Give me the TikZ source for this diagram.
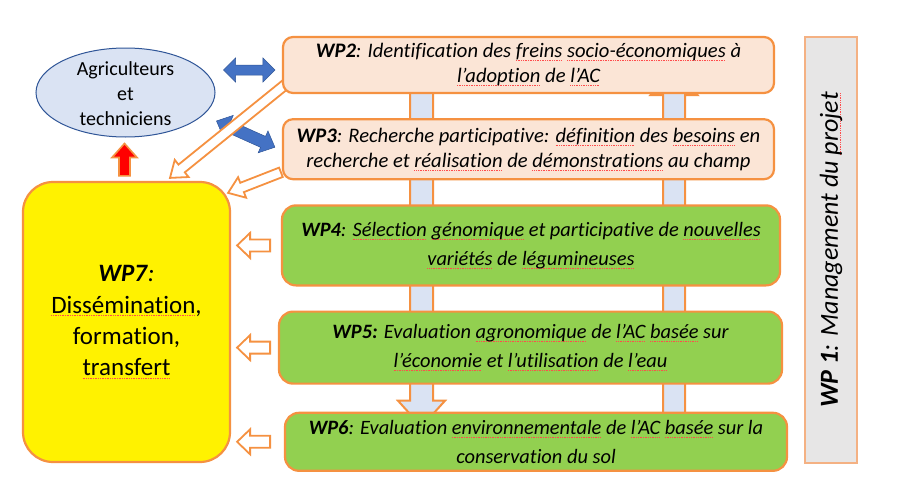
\documentclass[tikz,border=0pt]{standalone}
\usepackage{fontspec}
\setmainfont{Carlito}[Ligatures={TeX,NoCommon}]
\usetikzlibrary{positioning, calc, backgrounds, shapes.geometric}
\definecolor{wporange}{RGB}{245,145,65}
\definecolor{wppeach}{RGB}{251,229,214}
\definecolor{wpgreen}{RGB}{146,208,80}
\definecolor{wpgrey}{RGB}{231,230,230}
\definecolor{wpedge}{RGB}{244,177,131}
\definecolor{agriblue}{RGB}{218,227,243}
\definecolor{agriedge}{RGB}{47,85,151}
\definecolor{arrowblue}{RGB}{68,114,196}

% red spell-check line under a word
\newsavebox{\redbox}
\newcommand{\redul}[1]{\sbox{\redbox}{#1}\rlap{\raisebox{-2.8pt}{\hbox to \wd\redbox{\color{red!70}\xleaders\hbox{\rule{0.8pt}{0.4pt}\kern0.9pt}\hfill}}}\usebox{\redbox}}

% block arrow: style, tail, tip, shaft half width, head half width, head length
\newcommand{\blockarrow}[6]{%
  \coordinate (ba) at ($(#3)!#6!(#2)$);
  \draw[#1] ($(#2)!#4!90:(#3)$) -- ($(ba)!#4!90:(#3)$) -- ($(ba)!#5!90:(#3)$) -- (#3)
    -- ($(ba)!#5!-90:(#3)$) -- ($(ba)!#4!-90:(#3)$) -- ($(#2)!#4!-90:(#3)$) -- cycle;}
% same with a head at each end
\newcommand{\dblarrow}[6]{%
  \coordinate (da) at ($(#2)!#6!(#3)$);
  \coordinate (db) at ($(#3)!#6!(#2)$);
  \draw[#1] (#2) -- ($(da)!#5!90:(#3)$) -- ($(da)!#4!90:(#3)$) -- ($(db)!#4!90:(#3)$)
    -- ($(db)!#5!90:(#3)$) -- (#3) -- ($(db)!#5!-90:(#3)$) -- ($(db)!#4!-90:(#3)$)
    -- ($(da)!#4!-90:(#3)$) -- ($(da)!#5!-90:(#3)$) -- cycle;}

\begin{document}
\begin{tikzpicture}[x=1pt, y=-1pt, node distance=24pt,
    wpbox/.style={draw=wporange, line width=2.2pt, rounded corners=10pt, align=center, inner sep=0pt,
      font=\fontsize{20.6}{25}\selectfont\itshape},
    wpgreenbox/.style={wpbox, fill=wpgreen, rounded corners=14pt, font=\fontsize{20.4}{29}\selectfont\itshape},
    bar/.style={draw=wporange, line width=2pt, fill=agriblue},
    bluearrow/.style={draw=agriedge, line width=0.5pt, fill=arrowblue},
    hollow/.style={draw=wporange, line width=1.8pt, fill=white},
    redarrow/.style={draw=wporange, line width=1.6pt, fill=red}]
  \useasboundingbox (0,0) rectangle (900,498);

  \node[ellipse, draw=agriedge, line width=1pt, fill=agriblue, minimum width=179pt, minimum height=89pt] (agri) at (125.5,92.5) {};
  \node[align=center, font=\fontsize{20}{25}\selectfont] (agritxt) at ($(agri)+(0,1.5)$) {Agriculteurs\\et\\techniciens};

  \node[draw=wporange, line width=2.2pt, fill=yellow, rounded corners=30pt, minimum width=207pt, minimum height=280pt,
    align=center, font=\fontsize{25}{31.3}\selectfont] (wp7) at (126.5,322)
    {\textbf{\textit{WP7}}\textit{:}\\\redul{Dissémination},\\formation,\\\redul{transfert}};

  \node[wpbox, fill=wppeach, minimum width=491pt, minimum height=56pt] (wp2) at (528.5,65)
    {\textbf{WP2}: Identification des \redul{freins} \redul{socio-économiques} à\\\redul{l’adoption} de \redul{l’AC}};
  \node[wpbox, fill=wppeach, minimum width=491pt, minimum height=60pt, below=of wp2] (wp3)
    {\textbf{WP3}: Recherche participative: \redul{définition} des \redul{besoins} en\\recherche et \redul{réalisation} de \redul{démonstrations} au champ};
  \node[wpgreenbox, minimum width=498pt, minimum height=80pt, below=of wp3, xshift=2.5pt] (wp4)
    {\textbf{WP4}: \redul{Sélection} \redul{génomique} et participative de \redul{nouvelles}\\\redul{variétés} de \redul{légumineuses}};
  \node[wpgreenbox, minimum width=503pt, minimum height=72pt, below=of wp4, xshift=-0.5pt] (wp5)
    {\textbf{WP5:} Evaluation \redul{agronomique} de \redul{l’AC} \redul{basée} sur\\\redul{l’économie} et \redul{l’utilisation} de \redul{l’eau}};
  \node[wpgreenbox, minimum width=502pt, minimum height=58pt, below=27pt of wp5, xshift=5.5pt] (wp6)
    {\textbf{WP6}: Evaluation \redul{environnementale} de \redul{l’AC} \redul{basée} sur la\\conservation du sol};

  \node[draw=wpedge, line width=2pt, fill=wpgrey, rotate=90, minimum width=426pt, minimum height=52pt, inner sep=0pt,
    font=\fontsize{26}{31}\selectfont\itshape] (wp1) at (831,250) {\textbf{WP 1}: Management du \redul{projet}};

  \begin{pgfonlayer}{background}
    \fill[white] (0,0) rectangle (900,498);
    % links between the work packages
    \coordinate (b1s) at ($(wp2.south)+(-107,-13)$);
    \coordinate (b1e) at ($(b1s |- wp6.north)+(0,15)$);
    \blockarrow{bar}{b1s}{b1e}{11.5pt}{23.5pt}{26pt};
    \coordinate (b2e) at ($(wp2.south)+(145.5,-25)$);
    \coordinate (b2s) at ($(b2e |- wp6.north)+(0,10)$);
    \blockarrow{bar}{b2s}{b2e}{11pt}{23.5pt}{26pt};
    % farmers
    \coordinate (u1) at ($(agri.east)+(8,-22.5)$);
    \coordinate (u2) at ($(wp2.west)+(-7,5)$);
    \dblarrow{bluearrow}{u1}{u2}{5pt}{12pt}{12pt};
    \coordinate (v1) at ($(agri.east)+(1,28.5)$);
    \coordinate (v2) at ($(wp3.west)+(-7,-2)$);
    \dblarrow{bluearrow}{v1}{v2}{6pt}{12pt}{13pt};
    \coordinate (r1) at ($(wp7.north)+(-2,-5)$);
    \coordinate (r2) at ($(agri.south)+(-1,6)$);
    \blockarrow{redarrow}{r1}{r2}{5.5pt}{12.5pt}{14pt};
    % into WP7
    \coordinate (d1s) at ($(wp2.south west)+(4,-10)$);
    \coordinate (d1e) at ($(wp7.north)+(43.5,-3)$);
    \blockarrow{hollow}{d1s}{d1e}{5pt}{11pt}{15pt};
    \coordinate (d2s) at ($(wp3.south west)+(-1,-8)$);
    \coordinate (d2e) at ($(wp7.north east)+(-3,12)$);
    \blockarrow{hollow}{d2s}{d2e}{5pt}{11pt}{15pt};
    \foreach \w in {wp4,wp5,wp6}{
      \coordinate (t) at ($(wp7.east |- \w.west)+(39,0)$);
      \coordinate (h) at ($(wp7.east |- \w.west)+(6,0)$);
      \blockarrow{hollow}{t}{h}{6pt}{12.5pt}{13pt};
    }
  \end{pgfonlayer}
\end{tikzpicture}
\end{document}
